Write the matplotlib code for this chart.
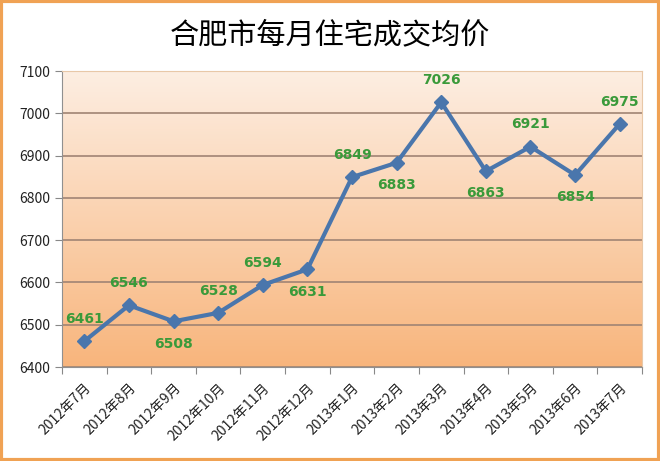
import matplotlib.pyplot as plt
import numpy as np
from matplotlib.colors import LinearSegmentedColormap
from matplotlib.patches import Rectangle

plt.rcParams['font.family'] = ['Noto Sans CJK SC', 'DejaVu Sans']

# datos
meses = ['2012年7月', '2012年8月', '2012年9月', '2012年10月', '2012年11月', '2012年12月',
         '2013年1月', '2013年2月', '2013年3月', '2013年4月', '2013年5月', '2013年6月', '2013年7月']
precios = [6461, 6546, 6508, 6528, 6594, 6631, 6849, 6883, 7026, 6863, 6921, 6854, 6975]
# posicion de la etiqueta: 1 arriba, -1 abajo
lado = [1, 1, -1, 1, 1, -1, 1, -1, 1, -1, 1, -1, 1]

fig = plt.figure(figsize=(6.6, 4.61), dpi=100)
ax = fig.add_axes([62/660, 1-367/461, 580/660, 296/461])

# borde naranja de la figura
fig.patches.append(Rectangle((0.002, 0.003), 0.996, 0.994, transform=fig.transFigure,
                             fill=False, edgecolor='#F0A254', linewidth=3))

x = np.arange(len(meses))
ax.set_xlim(-0.5, len(meses) - 0.5)
ax.set_ylim(6400, 7100)

# fondo degradado (claro arriba, naranja abajo)
cmap = LinearSegmentedColormap.from_list('grad', ['#FDEEE2', '#F8B57C'])
grad = np.linspace(0, 1, 256).reshape(-1, 1)
ax.imshow(grad, cmap=cmap, aspect='auto', origin='upper',
          extent=[-0.5, len(meses) - 0.5, 6400, 7100], zorder=0)

ax.set_yticks(np.arange(6400, 7101, 100))
ax.yaxis.grid(True, color='#A08474', linewidth=1.2)
for gl in ax.get_ygridlines():
    gl.set_zorder(1)

ax.plot(x, precios, color='#4A76AC', linewidth=3, marker='D', markersize=7, zorder=3)

for xi, p, s in zip(x, precios, lado):
    ax.annotate(str(p), (xi, p), xytext=(0, 16 * s), textcoords='offset points',
                ha='center', va='center', color='#3A9A3A', fontsize=10,
                fontweight='bold', family='DejaVu Sans')

ax.set_xticks(np.arange(-0.5, len(meses), 1), minor=False)
ax.set_xticklabels([])
ax.set_xticks(x, minor=True)
ax.set_xticklabels(meses, minor=True, rotation=45, ha='right', va='top',
                   rotation_mode='anchor', fontsize=10, color='#222222')
ax.tick_params(axis='x', which='minor', length=0, pad=10)
ax.tick_params(axis='x', which='major', length=5, color='#888888')
ax.tick_params(axis='y', length=5, color='#888888', labelsize=10, labelcolor='#222222')

for sp in ['top', 'right']:
    ax.spines[sp].set_color('#E8C8A8')
for sp in ['left', 'bottom']:
    ax.spines[sp].set_color('#909090')

fig.suptitle('合肥市每月住宅成交均价', y=1-35/461, va='center', fontsize=21)

fig.savefig('out.png', dpi=100)
